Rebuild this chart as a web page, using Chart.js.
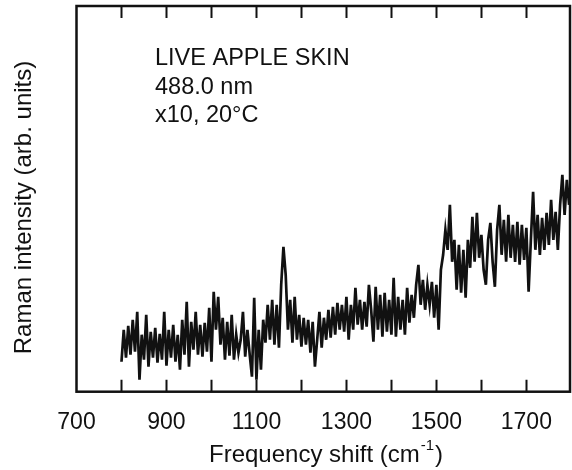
<!DOCTYPE html>
<html><head><meta charset="utf-8">
<script src="https://cdn.jsdelivr.net/npm/chart.js@4"></script>
<style>html,body{margin:0;padding:0;background:#fff}#wrap{width:572px;height:470px}</style>
</head><body><div id="wrap"><canvas id="c" width="572" height="470"></canvas></div>
<script>
// Raman shift (cm-1) sampling positions
const shifts = [
 800,805,810,815,820,825,830,835,840,845,850,855,860,865,870,875,880,885,890,895,
 900,905,910,915,920,925,930,935,940,945,950,955,960,965,970,975,980,985,990,995,
 1000,1005,1010,1015,1020,1025,1030,1035,1040,1045,1050,1055,1060,1065,1070,1075,1080,1085,1090,1095,
 1100,1105,1110,1115,1120,1125,1130,1135,1140,1145,1150,1155,1160,1165,1170,1175,1180,1185,1190,1195,
 1200,1205,1210,1215,1220,1225,1230,1235,1240,1245,1250,1255,1260,1265,1270,1275,1280,1285,1290,1295,
 1300,1305,1310,1315,1320,1325,1330,1335,1340,1345,1350,1355,1360,1365,1370,1375,1380,1385,1390,1395,
 1400,1405,1410,1415,1420,1425,1430,1435,1440,1445,1450,1455,1460,1465,1470,1475,1480,1485,1490,1495,
 1500,1505,1510,1515,1520,1525,1530,1535,1540,1545,1550,1555,1560,1565,1570,1575,1580,1585,1590,1595,
 1600,1605,1610,1615,1620,1625,1630,1635,1640,1645,1650,1655,1660,1665,1670,1675,1680,1685,1690,1695,
 1700,1705,1710,1715,1720,1725,1730,1735,1740,1745,1750,1755,1760,1765,1770,1775,1780,1785,1790,1795
];
// Raman intensity (arb. units)
const intensity = [
 30,62,34,66,37,72,40,80,12,57,32,77,25,60,34,64,29,58,32,80,
 26,62,34,67,30,57,22,72,37,90,25,70,42,80,37,67,35,69,40,84,
 30,100,62,95,47,74,32,70,36,77,32,57,39,52,80,35,62,37,15,94,
 12,62,22,72,49,87,52,92,47,87,44,107,145,117,62,92,49,95,52,77,
 45,74,47,72,39,70,25,52,80,44,74,52,82,54,85,57,89,62,87,60,
 95,52,87,62,104,67,92,62,90,65,107,82,50,105,62,97,55,99,60,92,
 57,114,55,95,62,92,57,104,69,97,74,107,127,87,112,82,107,87,110,74,
 107,62,122,137,162,142,187,130,152,102,147,99,142,94,152,124,175,130,179,134,
 157,122,107,152,169,130,105,162,187,137,172,130,177,134,167,130,170,127,167,132,
 164,100,152,200,142,177,137,174,142,179,147,192,152,180,142,187,217,177,212,187
];
const xTickValues = [700, 800, 900, 1000, 1100, 1200, 1300, 1400, 1500, 1600, 1700];
const xTickLabels = [700, 900, 1100, 1300, 1500, 1700];
const annotationLines = ["LIVE APPLE SKIN", "488.0 nm", "x10, 20°C"];
const xTitleMain = "Frequency shift (cm";
const xTitleSup = "-1";
const xTitleEnd = ")";
const yTitle = "Raman intensity (arb. units)";

const FAMILY = '"Liberation Sans", Arial, Helvetica, sans-serif';
const INK = '#111';

const decor = {
  id: 'decor',
  afterDraw(chart) {
    const {ctx, chartArea: a, scales: {x}} = chart;
    ctx.save();
    ctx.strokeStyle = INK;
    ctx.lineWidth = 2.5;
    ctx.strokeRect(a.left, a.top, a.right - a.left, a.bottom - a.top);
    ctx.lineWidth = 2;
    for (const t of x.ticks) {
      if (t.value <= x.min) continue;
      const px = Math.round(x.getPixelForValue(t.value)) + 0.5;
      ctx.beginPath();
      ctx.moveTo(px, a.bottom); ctx.lineTo(px, a.bottom - 12);
      ctx.moveTo(px, a.top); ctx.lineTo(px, a.top + 12);
      ctx.stroke();
    }
    ctx.fillStyle = INK;
    ctx.textAlign = 'left';
    ctx.textBaseline = 'alphabetic';
    ctx.font = '23.5px ' + FAMILY;
    annotationLines.forEach((t, i) => ctx.fillText(t, 155, 65 + i * 28.7));
    // y axis title (rotated)
    ctx.save();
    ctx.font = '24px ' + FAMILY;
    ctx.translate(24, 207.5);
    ctx.rotate(-Math.PI / 2);
    ctx.textAlign = 'center';
    ctx.textBaseline = 'middle';
    ctx.fillText(yTitle, 0, 0);
    ctx.restore();
    // x axis title with superscript
    const big = '24px ' + FAMILY, small = '15px ' + FAMILY;
    ctx.font = big;
    const w1 = ctx.measureText(xTitleMain).width;
    ctx.font = small;
    const w2 = ctx.measureText(xTitleSup).width;
    const x0 = 209;
    const base = 462;
    ctx.font = big;
    ctx.fillText(xTitleMain, x0, base);
    ctx.font = small;
    ctx.fillText(xTitleSup, x0 + w1 + 1, base - 12);
    ctx.font = big;
    ctx.fillText(xTitleEnd, x0 + w1 + w2 + 2, base);
    ctx.restore();
  }
};

new Chart(document.getElementById('c'), {
  type: 'line',
  data: {
    datasets: [{
      data: shifts.map((s, i) => ({x: s, y: intensity[i]})),
      borderColor: INK,
      borderWidth: 2.7,
      borderJoinStyle: 'miter',
      pointRadius: 0,
      fill: false,
      tension: 0
    }]
  },
  options: {
    responsive: false,
    animation: false,
    devicePixelRatio: 1,
    layout: {padding: {top: 6, right: 2, left: 0, bottom: 0}},
    plugins: {legend: {display: false}, tooltip: {enabled: false}},
    scales: {
      x: {
        type: 'linear', min: 700, max: 1797,
        afterFit(s) { s.height = 78.3; },
        afterBuildTicks(s) { s.ticks = xTickValues.map(v => ({value: v})); },
        grid: {display: false, drawTicks: false},
        border: {display: false},
        ticks: {
          autoSkip: false, maxRotation: 0,
          padding: 17, color: INK, font: {family: FAMILY, size: 23},
          callback: (v) => xTickLabels.includes(v) ? String(v) : ''
        }
      },
      y: {
        min: 0, max: 386,
        afterFit(s) { s.width = 76.5; },
        grid: {display: false},
        border: {display: false},
        ticks: {display: false},
        title: {display: false, text: yTitle}
      }
    }
  },
  plugins: [decor]
});
</script>
</body></html>
